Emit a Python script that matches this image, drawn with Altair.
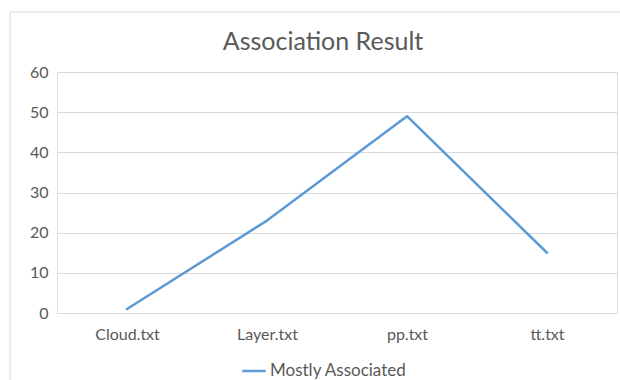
import altair as alt
import pandas as pd

files = ["Cloud.txt", "Layer.txt", "pp.txt", "tt.txt"]
values = [1, 23, 49, 15]
series = "Mostly Associated"

df = pd.DataFrame({"file": files, "value": values, "series": [series] * len(files)})

FONT = "Lato"
GREY = "#595959"

frame = alt.Chart(df).mark_rect(fill=None, stroke="#D9D9D9", strokeWidth=1).encode(
    x=alt.value(-47), x2=alt.value(620), y=alt.value(-60), y2=alt.value(400)
).transform_filter(alt.datum.file == files[0])

line = alt.Chart(df).mark_line(strokeWidth=2.5, strokeJoin="round", strokeCap="round").encode(
    x=alt.X("file:N", sort=files, title=None,
            scale=alt.Scale(type="point", padding=0.5),
            axis=alt.Axis(labelAngle=0, domain=False, ticks=False, grid=False,
                          labelPadding=13, labelFontSize=16, labelColor=GREY, labelFont=FONT)),
    y=alt.Y("value:Q", title=None,
            scale=alt.Scale(domain=[0, 60], nice=False),
            axis=alt.Axis(values=[0, 10, 20, 30, 40, 50, 60], domain=False, ticks=False,
                          gridColor="#D9D9D9", gridWidth=1, labelPadding=9,
                          labelFontSize=16, labelColor=GREY, labelFont=FONT)),
    color=alt.Color("series:N", scale=alt.Scale(range=["#5B9BD5"]),
                    legend=alt.Legend(title=None, orient="none", legendX=184, legendY=286,
                                      symbolType="stroke", symbolStrokeWidth=2.5, symbolSize=550,
                                      labelFontSize=17, labelColor=GREY, labelFont=FONT,
                                      labelOffset=3)),
)

chart = alt.layer(frame, line).properties(
    width=560, height=241,
    title=alt.TitleParams("Association Result", fontSize=25, font=FONT, fontWeight="normal",
                          color=GREY, anchor="middle", offset=-43, frame="group", dx=-14),
    autosize=alt.AutoSizeParams(type="none"),
    padding={"left": 57, "top": 72, "right": 3, "bottom": 67},
).configure_view(stroke=None).configure(background="white")

chart.save("out.html", embed_options={"renderer": "svg", "actions": False})
